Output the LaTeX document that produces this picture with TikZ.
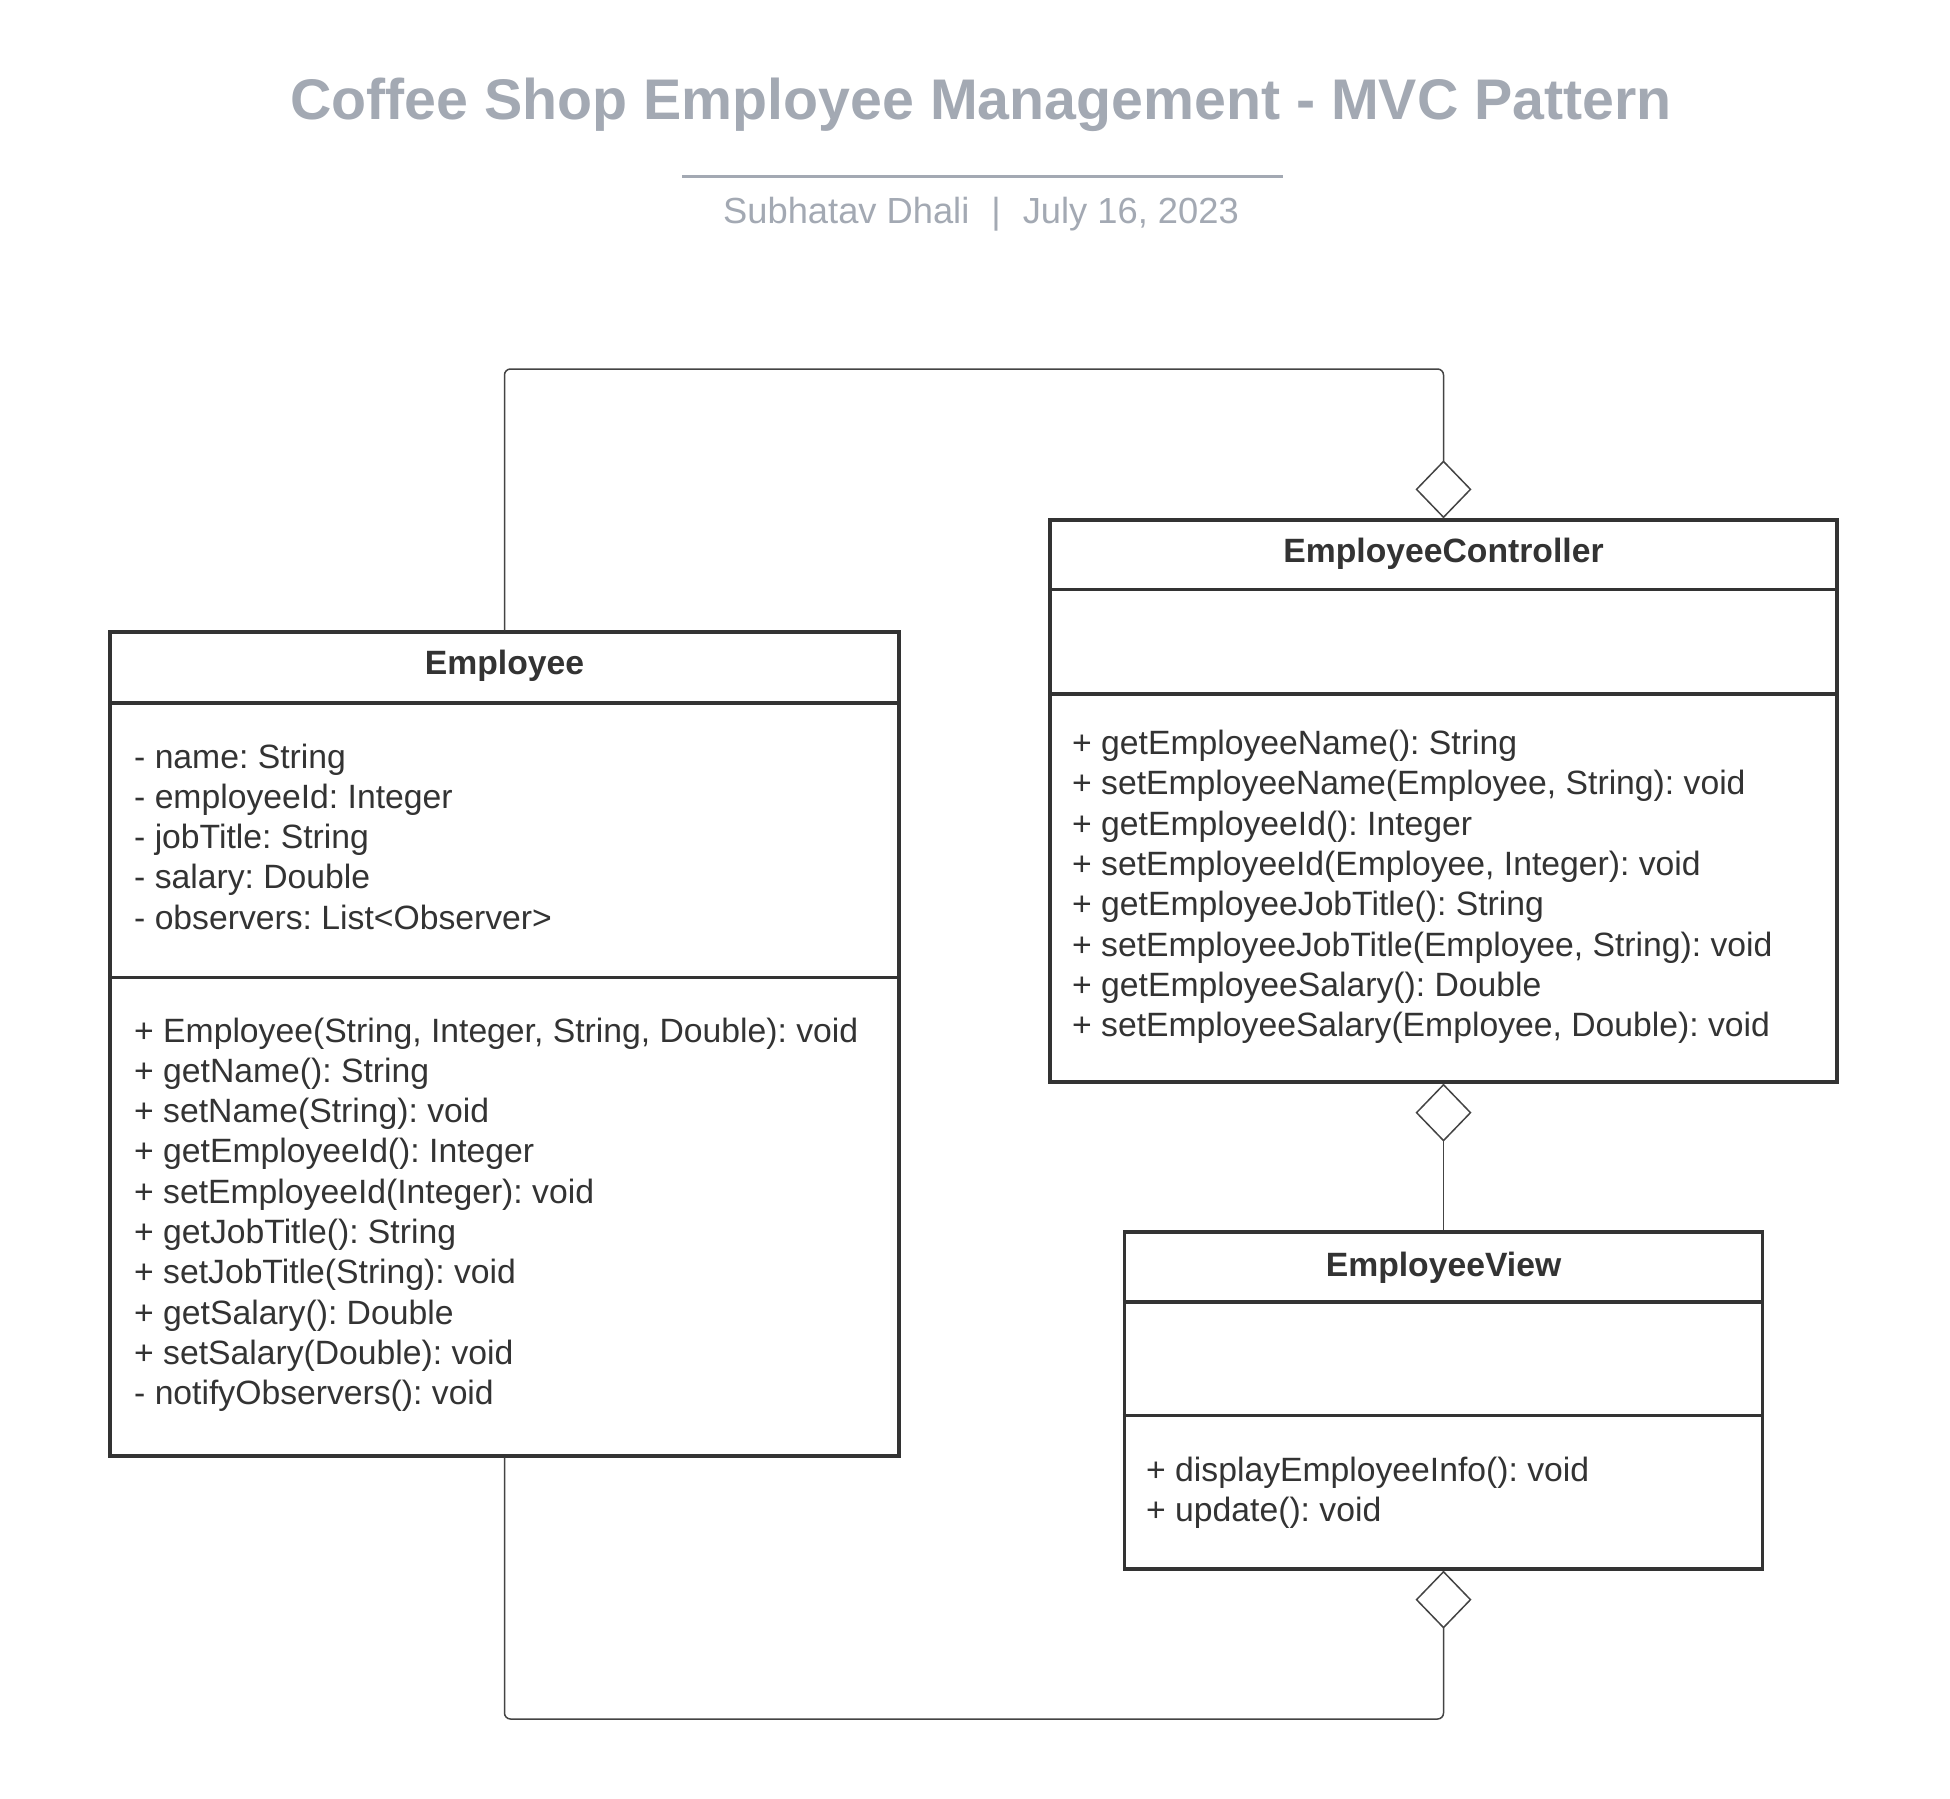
\documentclass[tikz,border=0pt]{standalone}
\usepackage{fontspec}
\setmainfont{Liberation Sans}
\usetikzlibrary{arrows.meta}
\definecolor{ink}{HTML}{333333}
\definecolor{titlegray}{RGB}{163,169,179}
\definecolor{conn}{HTML}{444444}
\begin{document}
\frenchspacing
\begin{tikzpicture}[x=1pt,y=-1pt,
  classbox/.style={draw=ink, line width=3.3pt, inner sep=0pt, fill=white},
  sepline/.style={draw=ink, line width=3.3pt},
  member/.style={anchor=base west, inner sep=0pt, text=ink, font=\fontsize{33.7}{40}\selectfont\frenchspacing},
  classname/.style={anchor=base, inner sep=0pt, text=ink, font=\fontsize{33.7}{40}\selectfont\bfseries},
  agg/.style={draw=conn, line width=1.5pt, rounded corners=6pt, -{Diamond[open, length=58pt, width=56pt]}},
]
\fill[white] (0,0) rectangle (1950,1798);
\useasboundingbox (0,0) rectangle (1950,1798);

% title block
\node[anchor=base, inner sep=0pt, text=titlegray, font=\fontsize{57.3}{62}\selectfont\bfseries] (title) at (981,120) {Coffee Shop Employee Management - MVC Pattern};
\coordinate (ruleL) at (682,177);
\coordinate (ruleR) at (1283,177);
\draw[titlegray, line width=3pt] (ruleL) -- (ruleR);
\node[anchor=base, inner sep=0pt, text=titlegray, font=\fontsize{36.3}{42}\selectfont] (subtitle) at (981,223) {Subhatav Dhali\hspace{22pt}|\hspace{22pt}July 16, 2023};

% Employee
\node[classbox, minimum width=789pt, minimum height=824pt] (emp) at (504.5,1044) {};
\draw[sepline] (emp.west |- 0,703) -- (emp.east |- 0,703);
\draw[sepline] (emp.west |- 0,977.5) -- (emp.east |- 0,977.5);
\node[classname] (empname) at (504.5,674) {Employee};
\foreach \t [count=\i] in {{- name: String},{- employeeId: Integer},{- jobTitle: String},{- salary: Double},{- observers: List<Observer>}}
  \node[member] (empa\i) at (134,{768+(\i-1)*40.3}) {\t};
\foreach \t [count=\i] in {{+ Employee(String, Integer, String, Double): void},{+ getName(): String},{+ setName(String): void},{+ getEmployeeId(): Integer},{+ setEmployeeId(Integer): void},{+ getJobTitle(): String},{+ setJobTitle(String): void},{+ getSalary(): Double},{+ setSalary(Double): void},{- notifyObservers(): void}}
  \node[member] (empm\i) at (134,{1042+(\i-1)*40.3}) {\t};

% EmployeeController
\node[classbox, minimum width=787pt, minimum height=562pt] (ctrl) at (1443.5,801) {};
\draw[sepline] (ctrl.west |- 0,589.5) -- (ctrl.east |- 0,589.5);
\draw[sepline] (ctrl.west |- 0,694) -- (ctrl.east |- 0,694);
\node[classname] (ctrlname) at (1443.5,562) {EmployeeController};
\foreach \t [count=\i] in {{+ getEmployeeName(): String},{+ setEmployeeName(Employee, String): void},{+ getEmployeeId(): Integer},{+ setEmployeeId(Employee, Integer): void},{+ getEmployeeJobTitle(): String},{+ setEmployeeJobTitle(Employee, String): void},{+ getEmployeeSalary(): Double},{+ setEmployeeSalary(Employee, Double): void}}
  \node[member] (ctrlm\i) at (1072,{754.5+(\i-1)*40.3}) {\t};

% EmployeeView
\node[classbox, minimum width=638pt, minimum height=337pt] (view) at (1443.5,1400.5) {};
\draw[sepline] (view.west |- 0,1302) -- (view.east |- 0,1302);
\draw[sepline] (view.west |- 0,1415.5) -- (view.east |- 0,1415.5);
\node[classname] (viewname) at (1443.5,1276) {EmployeeView};
\node[member] (viewm1) at (1146,1481.5) {+ displayEmployeeInfo(): void};
\node[member] (viewm2) at (1146,1521.8) {+ update(): void};

% connectors
\coordinate (topy) at (0,369);
\coordinate (boty) at (0,1719);
\draw[agg] (emp.north) -- (emp.north |- topy) -| (ctrl.north);
\draw[agg] (view.north) -- (ctrl.south);
\draw[agg] (emp.south) -- (emp.south |- boty) -| (view.south);
\end{tikzpicture}
\end{document}
